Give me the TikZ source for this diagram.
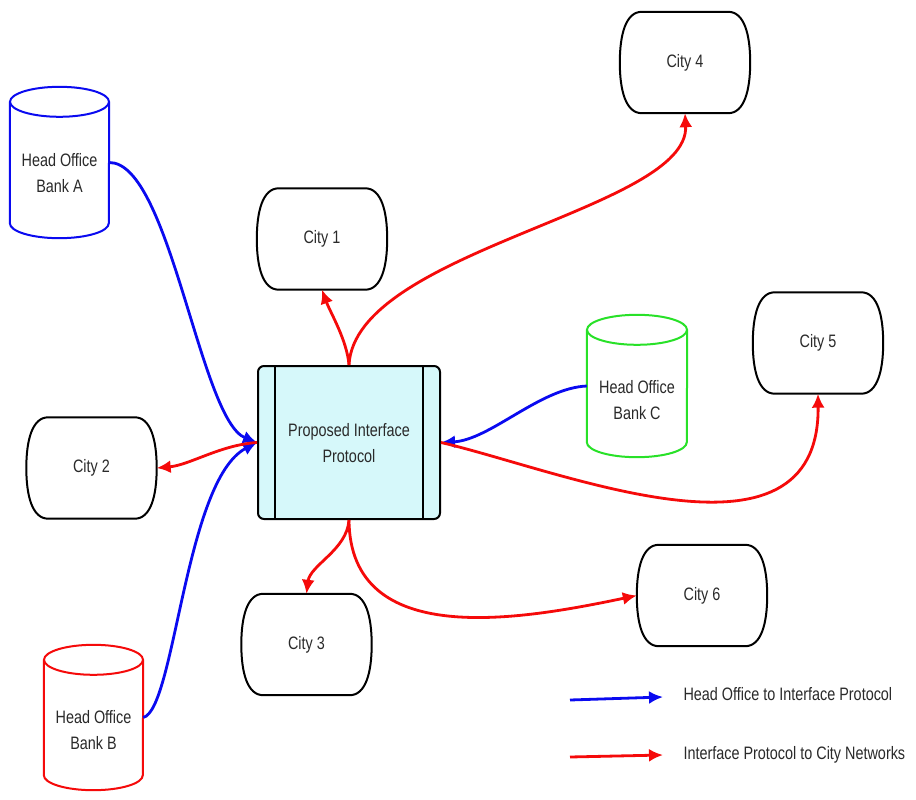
\documentclass[tikz,border=0pt]{standalone}
\usepackage{fontspec}
\setmainfont{Liberation Sans}[FakeStretch=0.8]
\usetikzlibrary{arrows.meta,calc}
\definecolor{txt}{HTML}{2A2A2A}
\definecolor{boxfill}{RGB}{214,248,250}
\definecolor{hblue}{RGB}{10,10,240}
\definecolor{hred}{RGB}{245,10,10}
\definecolor{hgreen}{RGB}{40,225,40}
\tikzset{
  lbl/.style={font=\fontsize{18}{26}\selectfont, text=txt, align=center},
  city/.style={lbl, draw=none, minimum width=130pt, minimum height=101pt, inner sep=0pt},
  cylbox/.style={lbl, draw=none, inner sep=0pt},
  hoarrow/.style={draw=hblue, line width=2.8pt, -{Latex[length=14pt,width=13pt]}},
  cityarrow/.style={draw=hred, line width=2.8pt, -{Latex[length=14pt,width=13pt]}},
}
\newcommand\cylpath[3]{%
  \draw[#3, line width=2pt, fill=white] ($(#1.north west)+(0,15)$) -- ($(#1.south west)+(0,-15)$)
    arc[start angle=180, end angle=0, x radius=#2, y radius=15] -- ($(#1.north east)+(0,15)$);
  \draw[#3, line width=2pt, fill=white] ($(#1.north)+(0,15)$) ellipse [x radius=#2, y radius=15];
}
\newcommand\citypath[1]{%
  \draw[black, line width=2pt] ($(#1.north west)+(22,0)$) -- ($(#1.north east)+(-22,0)$)
    .. controls ($(#1.north east)+(-6,0)$) and ($(#1.east)+(0,-28)$) .. (#1.east)
    .. controls ($(#1.east)+(0,28)$) and ($(#1.south east)+(-6,0)$) .. ($(#1.south east)+(-22,0)$)
    -- ($(#1.south west)+(22,0)$)
    .. controls ($(#1.south west)+(6,0)$) and ($(#1.west)+(0,28)$) .. (#1.west)
    .. controls ($(#1.west)+(0,-28)$) and ($(#1.north west)+(6,0)$) .. cycle;
}
\begin{document}
\begin{tikzpicture}[x=1pt, y=-1pt]
\useasboundingbox[fill=white] (0,0) rectangle (916,800);

% cylinders (head offices)
\node[cylbox, minimum width=99pt, minimum height=151pt] (ba) at (59.5,162.5) {};
\cylpath{ba}{49.5}{hblue}
\node[lbl] at (59.5,173) {Head Office\\Bank A};

\node[cylbox, minimum width=99pt, minimum height=145pt] (bb) at (93.5,717.5) {};
\cylpath{bb}{49.5}{hred}
\node[lbl] at (93.5,730) {Head Office\\Bank B};

\node[cylbox, minimum width=100pt, minimum height=142pt] (bc) at (637,386) {};
\cylpath{bc}{50}{hgreen}
\node[lbl] at (637,400) {Head Office\\Bank C};

% central box
\node[draw=black, line width=2pt, fill=boxfill, rounded corners=6pt,
  minimum width=182pt, minimum height=153pt, inner sep=0pt] (box) at (349,442.5) {};
\draw[line width=1.8pt] ($(box.north west)+(18,0)$) -- ($(box.south west)+(18,0)$);
\draw[line width=1.8pt] ($(box.north east)+(-18,0)$) -- ($(box.south east)+(-18,0)$);
\node[lbl] at (349,443) {Proposed Interface\\Protocol};

% cities
\node[city] (c1) at (322,239) {City 1};
\node[city] (c2) at (91.5,468) {City 2};
\node[city] (c3) at (306.5,644.5) {City 3};
\node[city] (c4) at (685,62.5) {City 4};
\node[city] (c5) at (818,343) {City 5};
\node[city] (c6) at (702,595.5) {City 6};
\citypath{c1}\citypath{c2}\citypath{c3}\citypath{c4}\citypath{c5}\citypath{c6}

% head office connectors
\draw[hoarrow] (ba.east) .. controls (170,162) and (200,420) .. (box.west);
\draw[hoarrow] (bb.east) .. controls (175,710) and (185,480) .. (box.west);
\draw[hoarrow] (bc.west) .. controls (540,388) and (490,440) .. (box.east);

% city connectors
\draw[cityarrow] (box.west) .. controls (220,445) and (190,465) .. (c2.east);
\draw[cityarrow] (box.north) .. controls (347,340) and (330,312) .. (c1.south);
\draw[cityarrow] (box.north) .. controls (355,250) and (690,210) .. (c4.south);
\draw[cityarrow] (box.east) .. controls (560,470) and (820,580) .. (c5.south);
\draw[cityarrow] (box.south) .. controls (347,550) and (310,565) .. (c3.north);
\draw[cityarrow] (box.south) .. controls (350,650) and (520,620) .. (c6.west);

% legend
\coordinate (l1s) at (570,700);
\coordinate (l1e) at (663,697);
\coordinate (l2s) at (570,757);
\coordinate (l2e) at (663,755);
\draw[hoarrow] (l1s) -- (l1e);
\draw[cityarrow] (l2s) -- (l2e);
\node[lbl, anchor=west] (t1) at (680,694) {Head Office to Interface Protocol};
\node[lbl, anchor=west] (t2) at (680,755) {Interface Protocol to City Networks};
\end{tikzpicture}
\end{document}
